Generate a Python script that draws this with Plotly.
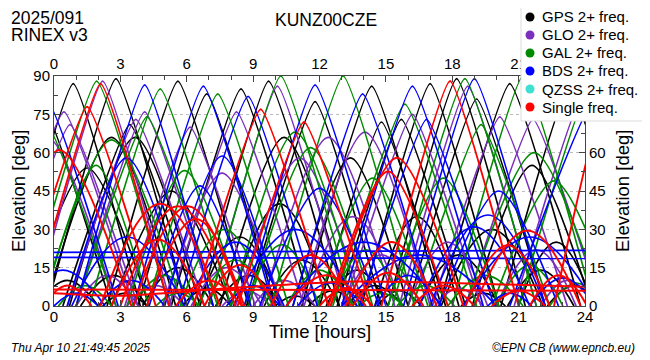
import plotly.graph_objects as go

# ---------------- data ----------------
# each pass: (rise time [h], culmination time [h], max elevation [deg], set time [h])
gps_passes = [
    (-3.5, -0.5, 78, 2.6), (-2.2, 0.87, 87, 3.9), (-0.3, 2.8, 89, 6.0), (-1.3, 1.5, 54, 4.3),
    (-0.4, 2.6, 66, 5.5), (0.4, 3.43, 71, 6.4), (0.7, 3.66, 66, 6.6), (2.4, 5.6, 88, 8.8),
    (2.6, 5.3, 45, 8.0), (3.8, 6.9, 83, 10.0), (5.3, 8.45, 85, 11.6), (6.6, 9.7, 88, 12.9),
    (7.5, 10.4, 66, 13.3), (8.0, 10.2, 40, 12.4), (8.7, 11.8, 80, 14.8), (10.8, 13.4, 58, 16.0),
    (11.2, 14.36, 86, 17.5), (12.0, 14.8, 72, 17.7), (12.8, 15.7, 73, 18.6), (14.5, 16.4, 35, 18.3),
    (13.9, 17.0, 87, 20.1), (15.1, 18.2, 89, 21.3), (16.0, 19.1, 81, 22.2), (17.5, 19.8, 30, 22.1),
    (17.4, 20.6, 87, 23.8), (18.9, 21.6, 55, 24.3), (20.2, 23.3, 86, 26.4), (21.0, 22.7, 25, 24.4),
    (1.2, 2.7, 12, 4.2), (4.0, 5.6, 15, 7.2), (6.5, 8.4, 27, 10.3), (7.3, 8.8, 12, 10.3),
    (9.5, 11.2, 18, 12.9), (11.5, 12.6, 6, 13.7), (13.2, 14.5, 8, 15.8), (16.5, 18.3, 20, 20.1),
    (20.5, 22.0, 14, 23.5), (-0.8, 0.6, 10, 2.0), (22.3, 23.5, 8, 24.7),
    (2.2, 3.2, 5, 4.2), (5.8, 6.9, 7, 8.0), (10.0, 10.9, 4, 11.8), (14.6, 15.6, 6, 16.6),
    (18.4, 19.4, 5, 20.4), (12.3, 13.7, 14, 15.1),
]
glo_passes = [
    (-3.0, -0.3, 66, 2.8), (-2.7, 0.45, 76, 3.6), (-2.3, 0.72, 71, 3.8), (-0.9, 2.2, 88, 5.3),
    (0.6, 3.7, 73, 6.8), (1.0, 4.1, 76, 7.2), (3.2, 6.15, 70, 9.1), (4.9, 7.6, 52, 10.3),
    (5.2, 8.25, 76, 11.3), (7.0, 10.1, 86, 13.2), (8.2, 11.1, 58, 14.0), (9.4, 12.4, 66, 15.4),
    (11.1, 14.05, 68, 17.0), (11.3, 13.5, 35, 15.7), (13.1, 16.2, 75, 19.3), (15.6, 18.7, 86, 21.8),
    (17.1, 20.15, 74, 23.2), (18.6, 21.65, 73, 24.7), (20.8, 23.9, 82, 27.0),
    (1.0, 2.4, 12, 3.8), (6.2, 7.8, 15, 9.4), (9.0, 10.4, 10, 11.8), (13.0, 14.8, 20, 16.6),
    (16.0, 17.8, 25, 19.6), (20.0, 21.8, 22, 23.6), (22.0, 23.2, 10, 24.4), (3.3, 4.6, 8, 5.9),
    (7.6, 8.7, 6, 9.8), (17.2, 18.3, 7, 19.4),
]
gal_passes = [
    (-3.5, -0.4, 72, 2.8), (-1.3, 1.93, 88, 5.2), (-0.5, 1.9, 55, 4.3), (-0.6, 2.6, 65, 5.8),
    (1.0, 4.2, 74, 7.4), (1.6, 4.8, 85, 8.0), (3.3, 5.9, 53, 8.5), (4.2, 7.4, 83, 10.6),
    (5.7, 7.7, 30, 9.7), (7.0, 10.25, 90, 13.5), (8.0, 10.9, 68, 13.8), (8.8, 11.6, 62, 14.4),
    (9.8, 13.07, 90, 16.3), (11.9, 14.4, 50, 16.9), (12.6, 15.86, 79, 19.1), (15.1, 17.6, 50, 20.1),
    (15.3, 18.57, 89, 21.8), (16.2, 19.3, 71, 22.4), (18.0, 21.2, 90, 24.4), (18.6, 21.7, 60, 24.8),
    (19.8, 22.6, 49, 25.4), (21.0, 24.2, 85, 27.4),
    (0.2, 1.4, 8, 2.6), (3.5, 5.0, 12, 6.5), (6.5, 8.2, 18, 9.9), (8.6, 10.3, 24, 12.0),
    (10.5, 12.0, 14, 13.5), (12.5, 14.1, 22, 15.7), (15.5, 16.8, 8, 18.1), (17.8, 19.5, 12, 21.2),
    (20.0, 21.5, 16, 23.0), (22.4, 23.6, 9, 24.8), (4.6, 5.6, 5, 6.6), (13.8, 14.8, 5, 15.8),
]
bds_passes = [
    (-3.3, -0.3, 80, 2.9), (-1.5, 0.4, 14, 2.3), (0.6, 3.28, 58, 6.0), (0.8, 3.3, 27, 5.9),
    (1.0, 4.1, 86.5, 7.2), (3.6, 6.75, 86, 9.9), (4.3, 6.6, 47, 8.9), (5.0, 7.6, 58.7, 10.2),
    (5.6, 8.77, 82, 11.9), (6.0, 8.2, 25, 10.4), (8.1, 10.9, 30, 13.7), (8.6, 11.8, 86.5, 15.0),
    (9.3, 12.0, 46, 14.7), (10.5, 14.0, 25, 17.5), (10.8, 13.95, 83, 17.1), (13.0, 16.5, 20, 20.0),
    (13.0, 16.2, 86, 19.4), (13.8, 16.84, 73, 19.9), (15.8, 19.0, 89, 22.2), (16.5, 19.0, 31, 21.5),
    (17.0, 19.6, 35.6, 22.2), (17.4, 20.1, 45, 22.8), (18.5, 21.5, 27, 24.5), (20.6, 24.4, 80, 27.6),
    (2.0, 3.5, 10, 5.0), (11.0, 12.5, 9, 14.0), (14.5, 16.0, 12, 17.5), (21.5, 23.0, 11, 24.5),
    (0.0, 1.0, 5, 2.0), (7.8, 9.0, 8, 10.2), (19.6, 20.6, 5, 21.6),
]
# geostationary tracks: (time [h], elevation [deg]) points
bds_geo_tracks = [
    [(0, 21.0), (24, 21.8)],
    [(0, 19.0), (24, 18.6)],
]
single_passes = [
    (-3.0, 0.25, 61, 3.5), (-1.6, 1.5, 78, 4.6), (-1.0, 2.11, 87, 5.2), (-0.5, 0.6, 8, 1.7),
    (2.1, 4.8, 40, 7.5), (2.6, 4.7, 26, 6.8), (3.0, 5.6, 39, 8.2), (3.6, 6.05, 39, 8.5),
    (4.2, 6.4, 34, 8.6), (5.5, 7.0, 10, 8.5), (6.3, 9.34, 77, 12.4), (6.8, 8.4, 16, 10.0),
    (8.3, 11.3, 72, 14.3), (9.8, 11.6, 20, 13.4), (10.5, 12.3, 12, 14.1), (12.0, 13.2, 7, 14.4),
    (12.4, 15.1, 52.6, 17.8), (12.5, 15.5, 58, 18.5), (13.2, 15.25, 25, 17.3), (13.5, 15.1, 13, 16.7),
    (14.8, 17.9, 88, 21.0), (16.2, 17.6, 8, 19.0), (18.6, 20.5, 23.8, 22.4), (19.0, 21.4, 29.5, 23.8),
    (19.8, 21.0, 6, 22.2), (21.5, 22.8, 12, 24.1), (22.6, 25.0, 85, 27.5),
]
single_geo_tracks = [
    [(0, 6.5), (24, 6.0)],
    [(0, 5.0), (3, 4.0), (8, 7.0), (13, 9.5), (18, 9.0), (24, 7.5)],
]

legend_names = ["GPS 2+ freq.", "GLO 2+ freq.", "GAL 2+ freq.", "BDS 2+ freq.", "QZSS 2+ freq.", "Single freq."]
hour_ticks = list(range(0, 25, 3))
elev_ticks = list(range(0, 91, 15))

# ---------------- styling ----------------
colors = {
    "GPS 2+ freq.": "#000000",
    "GLO 2+ freq.": "#7a2fbd",
    "GAL 2+ freq.": "#008a00",
    "BDS 2+ freq.": "#0000ff",
    "QZSS 2+ freq.": "#40e0d0",
    "Single freq.": "#ff0000",
}
FONT = "Liberation Sans, Arial, Helvetica, sans-serif"
OFF = 8                      # page body margin offset
W, H = 650 - OFF, 360 - OFF
# plot area in screen pixels: x 54..585, y 76..306
ML, MT = 54 - OFF, 76 - OFF
MR, MB = W - (585 - OFF), H - (306 - OFF)
PW, PH = W - ML - MR, H - MT - MB


def px(xs):  # screen pixel x -> paper x
    return (xs - OFF - ML) / PW


def py(ys):  # screen pixel y -> paper y
    return (H - MB - (ys - OFF)) / PH


fig = go.Figure()


def add_passes(passes, color, width):
    for rise, tpk, emax, st in passes:
        smooth = 0.35 if emax >= 70 else (0.8 if emax >= 45 else 1.2)
        fig.add_trace(go.Scatter(
            x=[rise, tpk, st], y=[0, emax, 0], mode="lines",
            line=dict(color=color, width=width, shape="spline", smoothing=smooth),
            showlegend=False, hoverinfo="skip"))


def add_tracks(tracks, color, width):
    for tr in tracks:
        fig.add_trace(go.Scatter(
            x=[p[0] for p in tr], y=[p[1] for p in tr], mode="lines",
            line=dict(color=color, width=width, shape="spline", smoothing=0.6),
            showlegend=False, hoverinfo="skip"))


add_passes(gps_passes, colors["GPS 2+ freq."], 1.7)
add_passes(glo_passes, colors["GLO 2+ freq."], 1.7)
add_passes(gal_passes, colors["GAL 2+ freq."], 1.7)
add_passes(bds_passes, colors["BDS 2+ freq."], 1.7)
add_tracks(bds_geo_tracks, colors["BDS 2+ freq."], 1.7)
add_passes(single_passes, colors["Single freq."], 2.0)
add_tracks(single_geo_tracks, colors["Single freq."], 2.0)

# invisible trace to activate the mirrored axes
fig.add_trace(go.Scatter(x=[None], y=[None], xaxis="x2", yaxis="y2", showlegend=False, hoverinfo="skip"))

axis_common = dict(
    showline=True, linecolor="#444", linewidth=1, ticks="inside", ticklen=6,
    tickcolor="#444", tickfont=dict(family=FONT, size=15, color="black"), zeroline=False,
    automargin=False,
)

fig.update_layout(
    width=W, height=H,
    margin=dict(l=ML, r=MR, t=MT, b=MB, autoexpand=False),
    paper_bgcolor="white", plot_bgcolor="white",
    font=dict(family=FONT, color="black"),
    showlegend=False,
    xaxis=dict(range=[0, 24], tickvals=hour_ticks, showgrid=False, ticklabelstandoff=-3,
               minor=dict(dtick=1, ticks="inside", ticklen=4, tickcolor="#444"),
               **axis_common),
    xaxis2=dict(range=[0, 24], tickvals=hour_ticks, overlaying="x", side="top", showgrid=False,
                minor=dict(dtick=1, ticks="inside", ticklen=4, tickcolor="#444"),
                **axis_common),
    yaxis=dict(range=[0, 90], tickvals=elev_ticks, showgrid=True, gridcolor="#bbbbbb",
               griddash="dot", gridwidth=1,
               minor=dict(dtick=7.5, ticks="inside", ticklen=4, tickcolor="#444"),
               **axis_common),
    yaxis2=dict(range=[0, 90], tickvals=elev_ticks, overlaying="y", side="right", showgrid=False,
                minor=dict(dtick=7.5, ticks="inside", ticklen=4, tickcolor="#444"),
                **axis_common),
)

# ---- legend box drawn as shapes + text (sits over the top-right corner like the original)
fig.add_shape(type="rect", xref="paper", yref="paper",
              x0=px(521), x1=px(645), y0=py(121), y1=py(2),
              fillcolor="white", line=dict(color="#dddddd", width=1), layer="above")
for i, name in enumerate(legend_names):
    yc = py(17 + i * 18)
    fig.add_shape(type="circle", xref="paper", yref="paper",
                  xsizemode="pixel", ysizemode="pixel",
                  xanchor=px(530), yanchor=yc, x0=-4.5, x1=4.5, y0=-4.5, y1=4.5,
                  fillcolor=colors[name], line=dict(width=0), layer="above")
    fig.add_annotation(text=name, xref="paper", yref="paper", x=px(540), y=yc,
                       xanchor="left", yanchor="middle", showarrow=False,
                       font=dict(family=FONT, size=15, color="black"))

annots = [
    dict(text="2025/091", x=px(9), y=py(18), xanchor="left", size=17.5, italic=False),
    dict(text="RINEX v3", x=px(9), y=py(35), xanchor="left", size=17.5, italic=False),
    dict(text="KUNZ00CZE", x=px(326), y=py(20), xanchor="center", size=17.5, italic=False),
    dict(text="Time [hours]", x=px(320), y=py(331), xanchor="center", size=18.5, italic=False),
    dict(text="Thu Apr 10 21:49:45 2025", x=px(9), y=py(348), xanchor="left", size=12, italic=True),
    dict(text="©EPN CB (www.epncb.eu)", x=px(637), y=py(348), xanchor="right", size=12, italic=True),
]
for a in annots:
    fig.add_annotation(
        text=a["text"], xref="paper", yref="paper", x=a["x"], y=a["y"],
        xanchor=a["xanchor"], yanchor="middle", showarrow=False,
        font=dict(family=FONT, size=a["size"], color="black",
                  style="italic" if a["italic"] else "normal"))

for xs in (18, 622):
    fig.add_annotation(text="Elevation [deg]", xref="paper", yref="paper", x=px(xs), y=0.5,
                       textangle=-90, showarrow=False, xanchor="center", yanchor="middle",
                       font=dict(family=FONT, size=18.5, color="black"))

fig.write_html("out.html")
